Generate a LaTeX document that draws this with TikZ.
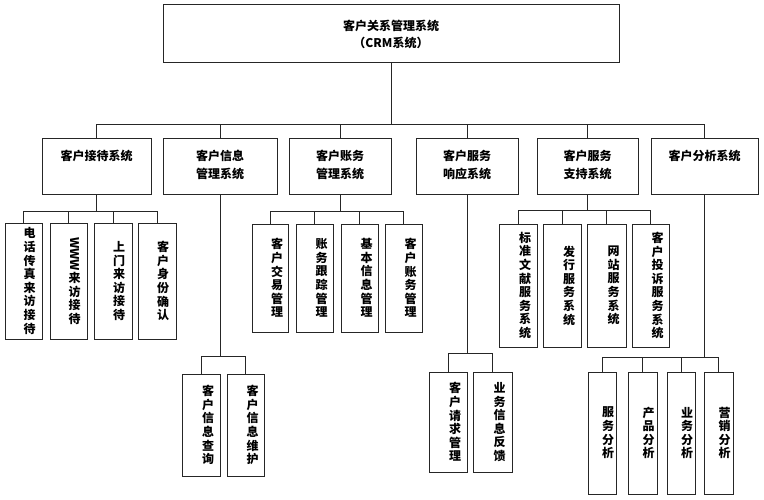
\documentclass[tikz,border=0pt]{standalone}
\usepackage{fontspec}
\usepackage{graphicx}
\setmainfont{Noto Sans CJK SC}
\tikzset{
  box/.style={draw=black!85, line width=0.9pt, inner sep=0pt},
  conn/.style={draw=black!85, line width=0.9pt},
  ht/.style={font=\bfseries\fontsize{12}{18}\selectfont, align=center, inner sep=0pt, anchor=north},
  vt/.style={font=\bfseries\fontsize{12}{13.6}\selectfont, align=center, inner sep=0pt},
}
\begin{document}
\begin{tikzpicture}[x=1pt,y=-1pt]
\useasboundingbox (0,0) rectangle (764,500);
% top
\node[box,minimum width=456,minimum height=58] (top) at (391,33) {};
\node[font=\bfseries\fontsize{12}{17}\selectfont,align=center,inner sep=0pt] (topt) at (391,34) {客户关系管理系统\\（CRM系统）};
% level 1
\node[box,minimum width=109,minimum height=56] (b1) at (96.5,166) {};
\node[box,minimum width=114,minimum height=56] (b2) at (220,166) {};
\node[box,minimum width=102,minimum height=56] (b3) at (340,166) {};
\node[box,minimum width=102,minimum height=56] (b4) at (467,166) {};
\node[box,minimum width=101,minimum height=56] (b5) at (587.5,166) {};
\node[box,minimum width=107,minimum height=56] (b6) at (704.5,166) {};
\node[ht] (b1t) at (96.5,150) {客户接待系统};
\node[ht] (b2t) at (220,150) {客户信息\\管理系统};
\node[ht] (b3t) at (340,150) {客户账务\\管理系统};
\node[ht] (b4t) at (467,150) {客户服务\\响应系统};
\node[ht] (b5t) at (587.5,150) {客户服务\\支持系统};
\node[ht] (b6t) at (704.5,150) {客户分析系统};
% leaves of b1
\node[box,minimum width=37,minimum height=116] (a1) at (23.5,281) {};
\node[box,minimum width=37,minimum height=116] (a2) at (68.5,281) {};
\node[box,minimum width=38,minimum height=116] (a3) at (113,281) {};
\node[box,minimum width=38,minimum height=116] (a4) at (157,281) {};
\node[vt] (a1t) at ([xshift=6]a1.center) {电\\话\\传\\真\\来\\访\\接\\待};
\node[vt] (a2t) at ([xshift=6]a2.center) {\rotatebox{-90}{WWW}\\来\\访\\接\\待};
\node[vt] (a3t) at ([xshift=6]a3.center) {上\\门\\来\\访\\接\\待};
\node[vt] (a4t) at ([xshift=6]a4.center) {客\\户\\身\\份\\确\\认};
% leaves of b3
\node[box,minimum width=36,minimum height=108] (c1) at (270,278) {};
\node[box,minimum width=37,minimum height=108] (c2) at (314.5,278) {};
\node[box,minimum width=37,minimum height=108] (c3) at (359.5,278) {};
\node[box,minimum width=37,minimum height=108] (c4) at (403.5,278) {};
\node[vt] (c1t) at ([xshift=7]c1.center) {客\\户\\交\\易\\管\\理};
\node[vt] (c2t) at ([xshift=7]c2.center) {账\\务\\跟\\踪\\管\\理};
\node[vt] (c3t) at ([xshift=7]c3.center) {基\\本\\信\\息\\管\\理};
\node[vt] (c4t) at ([xshift=7]c4.center) {客\\户\\账\\务\\管\\理};
% leaves of b5
\node[box,minimum width=38,minimum height=123] (e1) at (518,285.5) {};
\node[box,minimum width=38,minimum height=123] (e2) at (562,285.5) {};
\node[box,minimum width=39,minimum height=123] (e3) at (606.5,285.5) {};
\node[box,minimum width=37,minimum height=123] (e4) at (650.5,285.5) {};
\node[vt] (e1t) at ([xshift=7]e1.center) {标\\准\\文\\献\\服\\务\\系\\统};
\node[vt] (e2t) at ([xshift=7]e2.center) {发\\行\\服\\务\\系\\统};
\node[vt] (e3t) at ([xshift=7]e3.center) {网\\站\\服\\务\\系\\统};
\node[vt] (e4t) at ([xshift=7]e4.center) {客\\户\\投\\诉\\服\\务\\系\\统};
% leaves of b2
\node[box,minimum width=38,minimum height=102] (d1) at (201,425) {};
\node[box,minimum width=37,minimum height=102] (d2) at (245.5,425) {};
\node[vt] (d1t) at ([xshift=7]d1.center) {客\\户\\信\\息\\查\\询};
\node[vt] (d2t) at ([xshift=7]d2.center) {客\\户\\信\\息\\维\\护};
% leaves of b4
\node[box,minimum width=38,minimum height=100] (f1) at (448,422) {};
\node[box,minimum width=39,minimum height=100] (f2) at (492.5,422) {};
\node[vt] (f1t) at ([xshift=7]f1.center) {客\\户\\请\\求\\管\\理};
\node[vt] (f2t) at ([xshift=7]f2.center) {业\\务\\信\\息\\反\\馈};
% leaves of b6
\node[box,minimum width=28,minimum height=122] (g1) at (602,433) {};
\node[box,minimum width=29,minimum height=122] (g2) at (642.5,433) {};
\node[box,minimum width=28,minimum height=122] (g3) at (681,433) {};
\node[box,minimum width=29,minimum height=122] (g4) at (718.5,433) {};
\node[vt] (g1t) at ([xshift=6]g1.center) {服\\务\\分\\析};
\node[vt] (g2t) at ([xshift=6]g2.center) {产\\品\\分\\析};
\node[vt] (g3t) at ([xshift=6]g3.center) {业\\务\\分\\析};
\node[vt] (g4t) at ([xshift=6]g4.center) {营\\销\\分\\析};
% connectors
\foreach \c in {b1,b2,b3,b4,b5,b6} \draw[conn] (top.south) -- ++(0,62) -| (\c.north);
\foreach \c in {a1,a2,a3,a4} \draw[conn] (b1.south) -- ++(0,17) -| (\c.north);
\foreach \c in {c1,c2,c3,c4} \draw[conn] (b3.south) -- ++(0,17) -| (\c.north);
\foreach \c in {e1,e2,e3,e4} \draw[conn] (b5.south) -- ++(0,16) -| (\c.north);
\foreach \c in {d1,d2} \draw[conn] (b2.south) -- ++(0,162) -| (\c.north);
\foreach \c in {f1,f2} \draw[conn] (b4.south) -- ++(0,159) -| (\c.north);
\foreach \c in {g1,g2,g3,g4} \draw[conn] (b6.south) -- ++(0,163) -| (\c.north);
\end{tikzpicture}
\end{document}
